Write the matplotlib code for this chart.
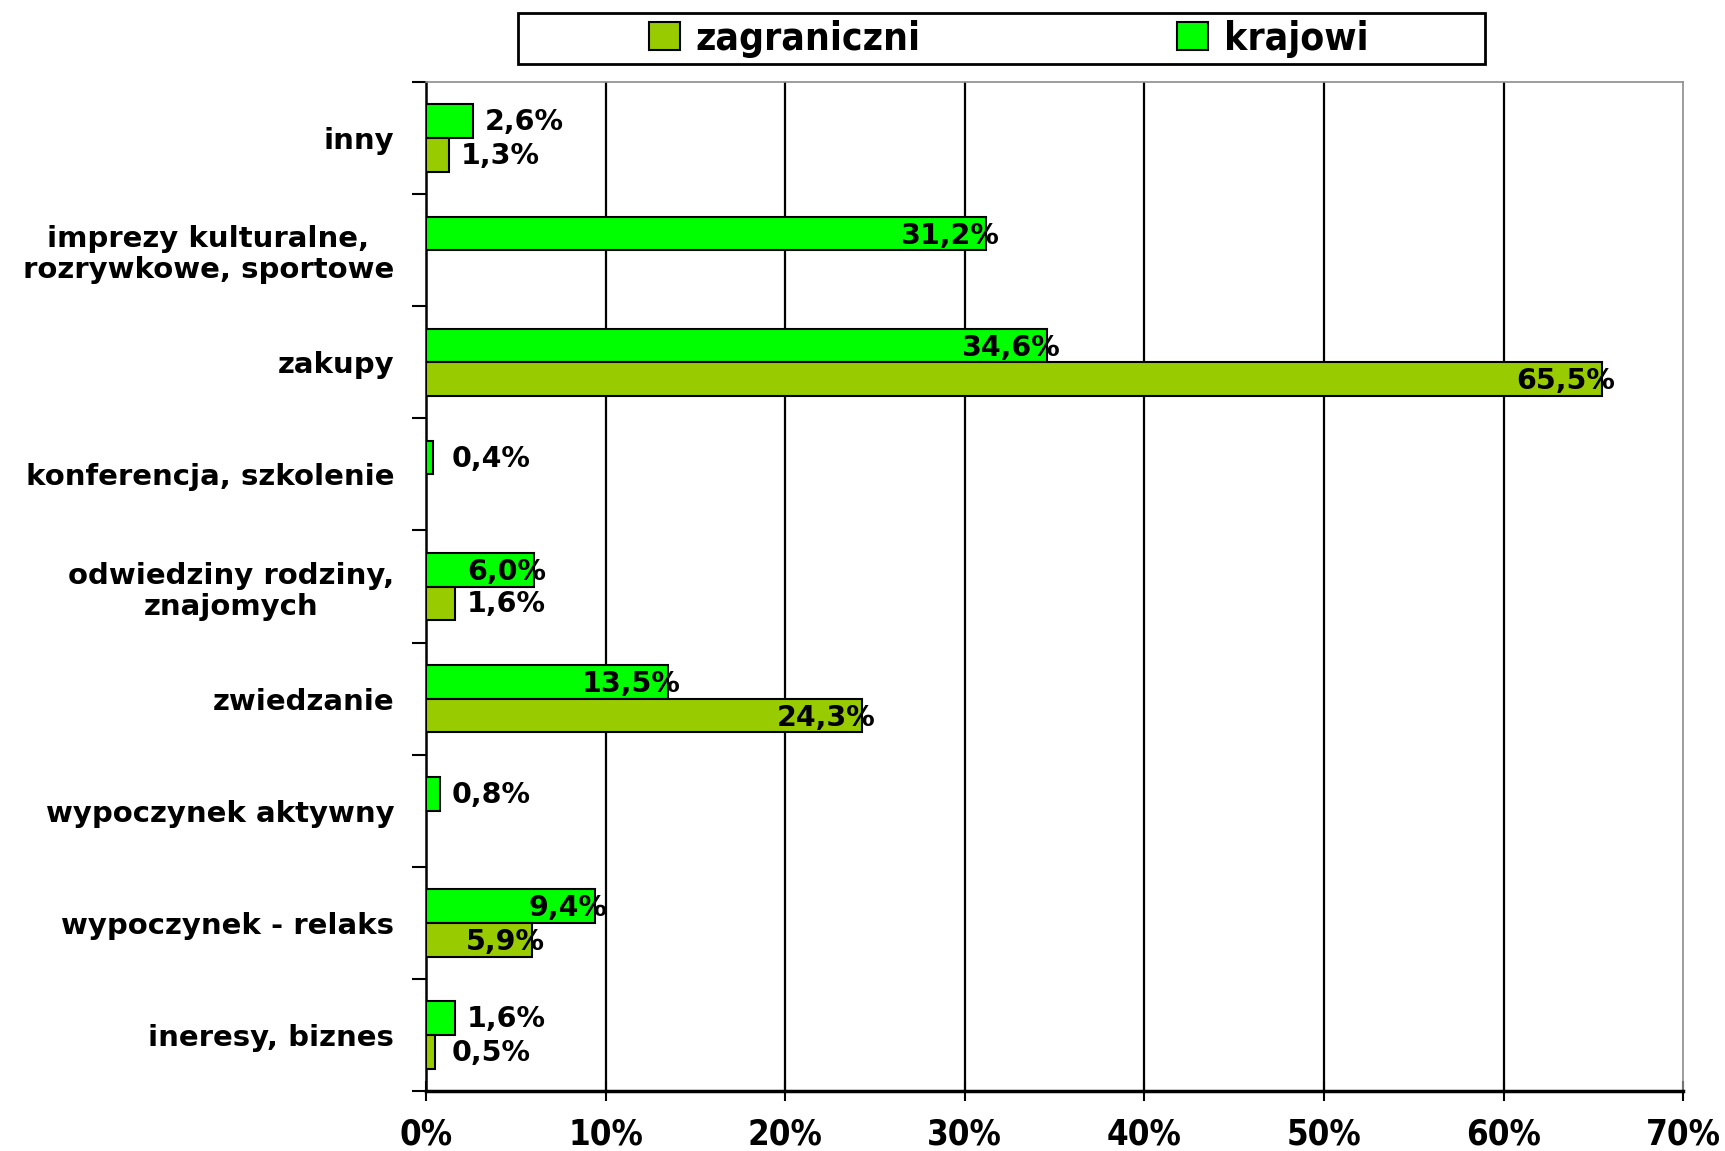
import numpy as np
import matplotlib
matplotlib.use("Agg")
import matplotlib.pyplot as plt
from matplotlib.patches import Rectangle, Patch

# categories from bottom to top
categories = [
    "ineresy, biznes",
    "wypoczynek - relaks",
    "wypoczynek aktywny",
    "zwiedzanie",
    "odwiedziny rodziny,\nznajomych",
    "konferencja, szkolenie",
    "zakupy",
    "imprezy kulturalne,\nrozrywkowe, sportowe",
    "inny",
]
krajowi = [1.6, 9.4, 0.8, 13.5, 6.0, 0.4, 34.6, 31.2, 2.6]
zagraniczni = [0.5, 5.9, None, 24.3, 1.6, None, 65.5, None, 1.3]
x_ticks = [0, 10, 20, 30, 40, 50, 60, 70]
x_tick_labels = ["0%", "10%", "20%", "30%", "40%", "50%", "60%", "70%"]

green = "#00ff00"
olive = "#99cc00"

fig = plt.figure(figsize=(17.25, 11.51), dpi=100)
ax = fig.add_axes([0.247, 0.052, 0.7287, 0.8768])

y = np.arange(len(categories))
h = 0.3


def pct(v):
    return f"{v:.1f}".replace(".", ",") + "%"


def add_labels(ys, vals):
    for yy, v in zip(ys, vals):
        if v is None:
            continue
        if v >= 5:
            ax.text(v + 0.7, yy - 0.02, pct(v), ha="right", va="center",
                    fontsize=20.5, fontweight="bold", family="DejaVu Sans")
        else:
            ax.text(max(v, 0.8) + 0.65, yy - 0.01, pct(v), ha="left", va="center",
                    fontsize=20.5, fontweight="bold", family="DejaVu Sans")


# bars (skip missing values so no zero-width edges are drawn)
k_y = y + h / 2
ax.barh(k_y, krajowi, height=h, color=green, edgecolor="black", linewidth=1.5, zorder=3)
z_idx = [i for i, v in enumerate(zagraniczni) if v is not None]
z_y = y - h / 2
ax.barh(z_y[z_idx], [zagraniczni[i] for i in z_idx], height=h, color=olive,
        edgecolor="black", linewidth=1.5, zorder=3)

add_labels(k_y, krajowi)
add_labels(z_y, zagraniczni)

ax.set_xlim(0, 70)
ax.set_ylim(-0.5, len(categories) - 0.5)

# vertical gridlines
for xv in x_ticks[1:-1]:
    ax.axvline(xv, color="black", linewidth=1.6, zorder=1)

ax.set_xticks(x_ticks)
ax.set_xticklabels(x_tick_labels, fontsize=25, fontweight="bold", family="DejaVu Sans",
                   stretch="condensed")
ax.tick_params(axis="x", direction="inout", length=14, width=1.5, pad=12)

ax.set_yticks(y)
ax.set_yticklabels(categories, fontsize=21, fontweight="bold", family="DejaVu Sans",
                   multialignment="center", linespacing=1.15)
ax.set_yticks(np.arange(-0.5, len(categories), 1.0), minor=True)
ax.tick_params(axis="y", which="major", length=0, pad=23)
ax.tick_params(axis="y", which="minor", length=10, width=1.5)

ax.spines["left"].set_linewidth(1.8)
ax.spines["bottom"].set_linewidth(2.5)
for s in ("top", "right"):
    ax.spines[s].set_color("#8c8c8c")
    ax.spines[s].set_linewidth(1.2)

# legend box
fig.patches.append(Rectangle((0.300, 0.944), 0.561, 0.045, transform=fig.transFigure,
                             facecolor="white", edgecolor="black", linewidth=2))
handles = [Patch(facecolor=olive, edgecolor="black", linewidth=1.5),
           Patch(facecolor=green, edgecolor="black", linewidth=1.5)]
fig.legend(handles, ["zagraniczni", "krajowi"], loc="center",
           bbox_to_anchor=(0.5848, 0.9665), ncol=2, frameon=False,
           prop={"family": "DejaVu Sans", "weight": "bold", "size": 28,
                 "stretch": "condensed"},
           handlelength=0.8, handleheight=0.7, handletextpad=0.4,
           columnspacing=6.6)

fig.savefig("out.png", dpi=100)
